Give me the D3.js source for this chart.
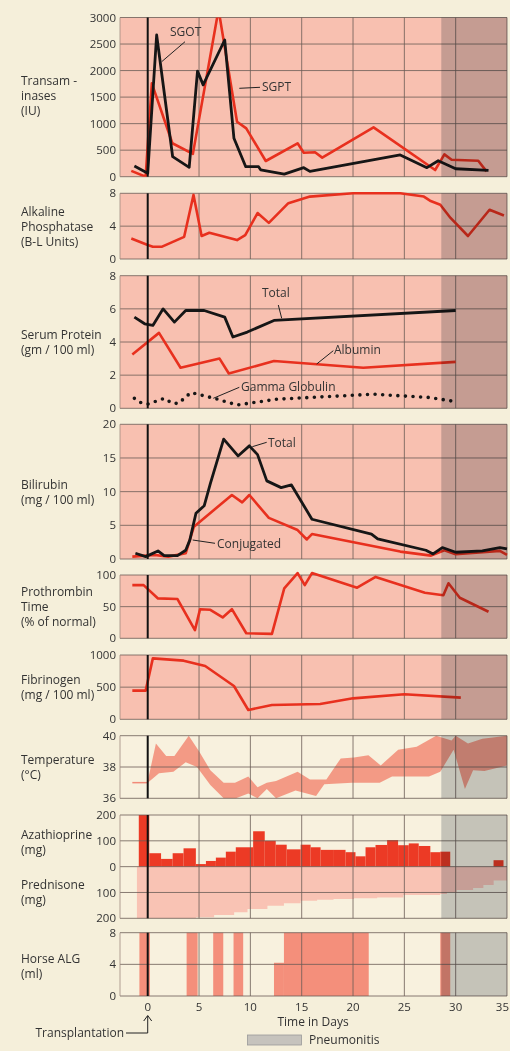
<!DOCTYPE html>
<html>
<head>
<meta charset="utf-8">
<script src="https://cdn.jsdelivr.net/npm/d3@7"></script>
<style>
  body { margin: 0; background: #f5efda; }
  text { font-family: "Open Sans", sans-serif; fill: #333; font-size: 12px; }
  text.tick, text.day { font-size: 11.5px; }
</style>
</head>
<body>
<script>
// ---- data (day, value) ----
const sgot = [[-1.3,200],[0,64],[0.87,2670],[2.43,377],[4.04,177],[4.85,1990],[5.4,1730],[7.5,2576],[8.4,723],[9.55,188],[10.8,188],[11,130],[13.3,50],[15.2,170],[15.8,100],[24.6,409],[27.2,170],[28.3,300],[30,150],[33.2,120]];
const sgpt = [[-1.6,110],[-0.2,0],[0.4,1760],[2.4,630],[4.4,430],[6.9,3150],[8.7,1036],[9.6,910],[11.5,296],[14.6,630],[15.2,450],[16.3,460],[17,360],[22,930],[28,126],[28.9,420],[29.6,320],[32.2,300],[33,100]];
const alkPhos = [[-1.6,2.5],[0,1.7],[0.5,1.5],[1.4,1.5],[3.55,2.7],[4.46,7.8],[5.25,2.8],[6,3.2],[8.7,2.3],[9.5,2.9],[10.7,5.6],[11.8,4.4],[13.7,6.8],[15.8,7.6],[20,8.0],[24.6,8.0],[26.9,7.6],[27.5,7.1],[28.5,6.6],[29.5,5.0],[31.2,2.8],[33.3,6.0],[34.7,5.3]];
const proteinTotal = [[-1.3,5.5],[-0.3,5.1],[0.5,5.0],[1.5,6.0],[2.6,5.2],[3.7,5.9],[5.5,5.9],[7.5,5.5],[8.3,4.3],[9.7,4.6],[12.3,5.3],[30,5.9]];
const albumin = [[-1.5,3.25],[1.1,4.55],[3.2,2.45],[7.0,3.0],[7.9,2.1],[12.3,2.85],[21,2.45],[30,2.8]];
const gammaGlobulin = [[-1.3,0.6],[-0.7,0.35],[0,0.25],[1.6,0.6],[2.4,0.3],[3,0.3],[4.2,0.95],[6.5,0.6],[8.7,0.2],[12.6,0.55],[22,0.85],[27.5,0.65],[30,0.4]];
const biliTotal = [[-1.2,0.85],[-0.2,0.35],[1.0,1.2],[1.6,0.5],[2.9,0.5],[3.7,1.3],[4.1,2.8],[4.7,6.8],[5.5,7.9],[6.1,11.2],[7.4,17.8],[8.8,15.3],[9.9,16.8],[10.7,15.5],[11.6,11.6],[13.0,10.6],[14.0,11.0],[16.0,5.9],[21.8,3.7],[22.4,3.0],[27.1,1.3],[27.8,0.75],[28.7,1.7],[30,1.0],[32.6,1.2],[34.3,1.7],[35,1.5]];
const biliConj = [[-1.5,0.35],[0.7,0.6],[2,0.35],[3.7,0.85],[4.5,4.8],[8.2,9.5],[9.2,8.4],[9.9,9.5],[11.8,6.1],[14.6,4.3],[15.5,2.9],[16,3.7],[24.6,1.1],[27.6,0.5],[28.9,1.3],[30,0.7],[34.3,1.2],[35,0.6]];
const prothrombin = [[-1.5,84],[-0.4,84],[1.0,63],[2.9,62],[4.6,13],[5.1,46],[6.1,45],[7.3,33],[8.2,46],[9.6,8],[12.1,7],[13.3,79],[14.6,103],[15.3,84],[16.0,103],[20.4,80],[22.2,97],[27,72],[28.8,68],[29.3,87],[30.4,64],[33.2,42]];
const fibrinogen = [[-1.5,446],[-0.2,446],[0.5,948],[3.5,912],[5.6,829],[8.4,518],[9.8,145],[12.1,223],[16.8,238],[20,326],[25,389],[30.5,337]];
const tempHigh = [[0,37.1],[0.8,39.5],[1.8,38.7],[2.6,38.7],[4.0,40],[5,39],[6.1,37.8],[7.4,37.0],[8.5,37.0],[9.8,37.4],[10.7,36.7],[11.6,37.0],[12.5,37.1],[14.6,37.7],[15.8,37.2],[17.4,37.2],[18.8,38.55],[20.1,38.6],[21.5,38.75],[22.7,38.1],[24.4,39.1],[26.2,39.3],[28.1,40],[29.6,39.7],[30,40],[31.2,39.5],[32.6,39.8],[35,40]];
const tempLow = [[0,37.0],[1.1,37.6],[2.5,37.7],[3.7,38.3],[4.8,38.0],[6.1,36.85],[7.4,36.0],[8.6,36.0],[9.8,36.3],[10.7,36.0],[11.6,36.6],[12.5,36.0],[14.4,36.5],[16.4,36.15],[17.2,36.9],[19.9,37],[21.3,37],[22.6,37],[23.8,37.4],[24.8,37.4],[27.4,37.4],[28.5,37.7],[29.8,39.1],[30.9,36.6],[31.7,37.8],[32.8,37.75],[35,38.1]];
const tempPre = [[-1.5,37],[0,37]];
// azathioprine: [start day, end day, mg]
const azathioprine = [[-0.87,0.15,200],[0.15,1.3,52],[1.3,2.43,30],[2.43,3.49,52],[3.49,4.69,71],[4.69,5.67,10],[5.67,6.64,22],[6.64,7.61,35],[7.61,8.58,58],[8.58,10.27,75],[10.27,11.4,137],[11.4,12.47,100],[12.47,13.54,85],[13.54,14.9,67],[14.9,15.87,85],[15.87,16.84,75],[16.84,18.14,65],[18.14,19.27,65],[19.27,20.24,56],[20.24,21.22,40],[21.22,22.19,75],[22.19,23.32,84],[23.32,24.39,103],[24.39,25.43,83],[25.43,26.4,90],[26.4,27.53,80],[27.53,28.5,56],[28.5,29.47,58],[33.69,34.66,25]];
// prednisone steps: [from day, mg]
const prednisone = [[-1.05,200],[4.69,196],[6.47,187],[8.42,177],[9.72,164],[11.66,151],[13.27,142],[14.9,132],[16.5,128],[18.1,125],[20.1,122],[22.35,119],[24.9,110],[28.5,106],[29.15,99],[30.1,90],[31.7,83],[32.7,71],[33.7,54],[35,54]];
// horse ALG: [start day, end day, ml]
const horseALG = [[-0.81,0.22,8],[3.79,4.86,8],[6.38,7.36,8],[8.36,9.3,8],[12.3,13.27,4.2],[13.27,21.53,8],[28.5,29.47,8]];

const dayTicks = [0,5,10,15,20,25,30,35];
const pneumonitisStart = 28.6;

// ---- layout ----
const W = 510, H = 1051;
const PINK = "#f8c0b0", CREAM = "#f8f1de", RED = "#e8301e", BLACK = "#161616";
const svg = d3.select("body").append("svg").attr("width", W).attr("height", H);
const x = d3.scaleLinear().domain([-2.7, 35]).range([120, 507]);

function panel(top, bottom, domain, ticks, bg, label, labelY, fmt) {
  const g = svg.append("g");
  const y = d3.scaleLinear().domain(domain).range([bottom, top]);
  g.append("rect").attr("x", x(-2.7)).attr("y", top)
    .attr("width", x(35) - x(-2.7)).attr("height", bottom - top).attr("fill", bg);
  const fills = g.append("g");
  const grid = g.append("g").attr("stroke", "#6a5c56").attr("stroke-width", 0.8);
  grid.selectAll("line.h").data(ticks).join("line").attr("class", "h")
    .attr("x1", x(-2.7)).attr("x2", x(35)).attr("y1", d => y(d)).attr("y2", d => y(d));
  grid.selectAll("line.v").data([5,10,15,20,25,30,35]).join("line").attr("class", "v")
    .attr("x1", d => x(d)).attr("x2", d => x(d)).attr("y1", top).attr("y2", bottom);
  grid.append("line").attr("x1", x(-2.7)).attr("x2", x(-2.7)).attr("y1", top).attr("y2", bottom)
    .attr("stroke", "#a08a80");
  const lines = g.append("g").attr("fill", "none").attr("stroke-linejoin", "round");
  g.append("rect").attr("x", x(pneumonitisStart)).attr("y", top)
    .attr("width", x(35) - x(pneumonitisStart)).attr("height", bottom - top)
    .attr("fill", "#cbcfd4").style("mix-blend-mode", "multiply");
  g.append("line").attr("x1", x(0)).attr("x2", x(0)).attr("y1", top).attr("y2", bottom)
    .attr("stroke", "#111").attr("stroke-width", 2);
  g.selectAll("text.tick").data(ticks).join("text").attr("class", "tick")
    .attr("x", 116).attr("y", d => y(d)).attr("dy", "0.36em").attr("text-anchor", "end")
    .text(fmt || (d => d));
  g.append("text").attr("x", 21).attr("y", labelY).selectAll("tspan").data(label).join("tspan")
    .attr("x", 21).attr("dy", (d, i) => i ? 15 : 0).text(d => d);
  return { y, fills, lines };
}

function lineGen(y) { return d3.line().x(d => x(d[0])).y(d => y(d[1])); }
function drawLine(p, data, color, w) {
  p.lines.append("path").datum(data).attr("d", lineGen(p.y))
    .attr("stroke", color).attr("stroke-width", w || 2.6);
}
function note(txt, tx, ty, x1, y1, x2, y2) {
  svg.append("text").attr("x", tx).attr("y", ty).text(txt);
  svg.append("line").attr("x1", x1).attr("y1", y1).attr("x2", x2).attr("y2", y2)
    .attr("stroke", "#222").attr("stroke-width", 1);
}

// Transaminases
const pT = panel(17.5, 176.7, [0, 3000], d3.range(0, 3001, 500), PINK, ["Transam -", "inases", "(IU)"], 85);
svg.append("clipPath").attr("id", "clipT").append("rect")
  .attr("x", x(-2.7)).attr("y", 17.5).attr("width", x(35) - x(-2.7)).attr("height", 159.2);
pT.lines.attr("clip-path", "url(#clipT)");
drawLine(pT, sgpt, RED);
drawLine(pT, sgot, BLACK, 2.8);
note("SGOT", 170, 36, 185, 41.7, 161.7, 61.7);
note("SGPT", 262, 91, 260, 87.3, 239.3, 88.3);

// Alkaline phosphatase
const pA = panel(193.3, 259, [0, 8], [0, 4, 8], PINK, ["Alkaline", "Phosphatase", "(B-L Units)"], 216);
drawLine(pA, alkPhos, RED);

// Serum protein
const pS = panel(275.7, 408.3, [0, 8], [0, 2, 4, 6, 8], PINK, ["Serum Protein", "(gm / 100 ml)"], 339);
drawLine(pS, albumin, RED);
drawLine(pS, proteinTotal, BLACK, 2.8);
pS.lines.append("path").datum(gammaGlobulin).attr("d", lineGen(pS.y))
  .attr("stroke", BLACK).attr("stroke-width", 3.6).attr("stroke-linecap", "round")
  .attr("stroke-dasharray", "0 7.6");
note("Total", 262, 297, 278.3, 305, 281.7, 318.3);
note("Albumin", 334, 354, 333.3, 350.7, 316.7, 364);
note("Gamma Globulin", 241, 391, 239.3, 387.3, 213.3, 398.3);

// Bilirubin
const pB = panel(424.3, 559, [0, 20], [0, 5, 10, 15, 20], PINK, ["Bilirubin", "(mg / 100 ml)"], 489);
drawLine(pB, biliConj, RED);
drawLine(pB, biliTotal, BLACK, 2.8);
note("Total", 268, 446.5, 266.7, 442.3, 252.3, 446.7);
note("Conjugated", 217, 547.5, 215, 543.3, 192.7, 540);

// Prothrombin
const pP = panel(575, 638.3, [0, 100], [0, 50, 100], PINK, ["Prothrombin", "Time", "(% of normal)"], 596);
drawLine(pP, prothrombin, RED);

// Fibrinogen
const pF = panel(655, 719.3, [0, 1000], [0, 500, 1000], PINK, ["Fibrinogen", "(mg / 100 ml)"], 684);
drawLine(pF, fibrinogen, RED);

// Temperature
const pTe = panel(735.7, 798.3, [36, 40], [36, 38, 40], CREAM, ["Temperature", "(\u00B0C)"], 764);
pTe.fills.append("path").datum(tempHigh.concat(tempLow.slice().reverse()))
  .attr("d", d => lineGen(pTe.y)(d) + "Z").attr("fill", "#f0604a").attr("fill-opacity", 0.6);
pTe.fills.append("path").datum(tempPre).attr("d", lineGen(pTe.y))
  .attr("stroke", "#f28a78").attr("stroke-width", 1.5);

// Azathioprine / Prednisone
const pZ = panel(815, 918.3, [-200, 200], [-200, -100, 0, 100, 200], CREAM, ["Azathioprine", "(mg)"], 838.5, d => Math.abs(d));
pZ.fills.append("path").datum(prednisone)
  .attr("d", d3.area().curve(d3.curveStepAfter).x(d => x(d[0])).y0(pZ.y(0)).y1(d => pZ.y(-d[1])))
  .attr("fill", "#f9c3b4");
pZ.fills.selectAll("rect").data(azathioprine).join("rect")
  .attr("x", d => x(d[0])).attr("width", d => x(d[1]) - x(d[0]))
  .attr("y", d => pZ.y(d[2])).attr("height", d => pZ.y(0) - pZ.y(d[2]))
  .attr("fill", "#ec3a25");
svg.append("text").attr("x", 21).attr("y", 889).text("Prednisone");
svg.append("text").attr("x", 21).attr("y", 904).text("(mg)");

// Horse ALG
const pH = panel(932.7, 996, [0, 8], [0, 4, 8], CREAM, ["Horse ALG", "(ml)"], 962.5);
pH.fills.selectAll("rect").data(horseALG).join("rect")
  .attr("x", d => x(d[0])).attr("width", d => x(d[1]) - x(d[0]))
  .attr("y", d => pH.y(d[2])).attr("height", d => pH.y(0) - pH.y(d[2]))
  .attr("fill", "#f48f7b");

// x axis (last label kept inside the page edge)
svg.selectAll("text.day").data(dayTicks).join("text").attr("class", "day")
  .attr("x", d => d === 35 ? W - 1 : x(d)).attr("y", 1011)
  .attr("text-anchor", d => d === 35 ? "end" : "middle").text(d => d);
svg.append("text").attr("x", 313).attr("y", 1026).attr("text-anchor", "middle").text("Time in Days");

// transplantation arrow
svg.append("text").attr("x", 124).attr("y", 1037).attr("text-anchor", "end").text("Transplantation");
svg.append("path").attr("d", `M126,1033H${x(0)}V1016M${x(0) - 4},1021L${x(0)},1015.5L${x(0) + 4},1021`)
  .attr("fill", "none").attr("stroke", "#222").attr("stroke-width", 1);

// legend
svg.append("rect").attr("x", 247.5).attr("y", 1035).attr("width", 54).attr("height", 10)
  .attr("fill", "#c6c3bd").attr("stroke", "#999").attr("stroke-width", 0.8);
svg.append("text").attr("x", 309).attr("y", 1044).text("Pneumonitis");
</script>
</body>
</html>
